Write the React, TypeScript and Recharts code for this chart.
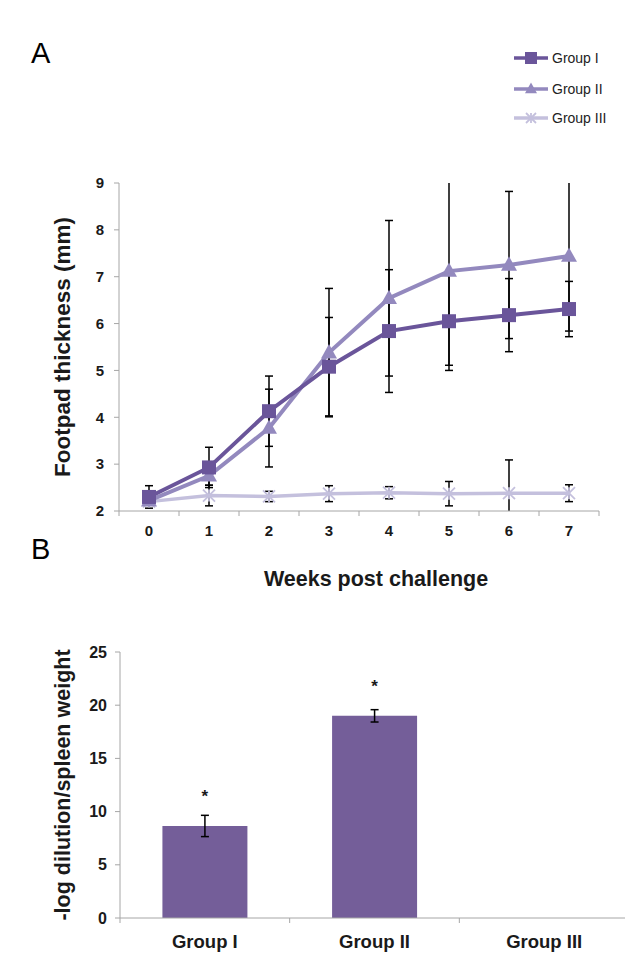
import {
  LineChart, Line, BarChart, Bar, XAxis, YAxis, ErrorBar,
  Legend, Label, LabelList,
} from 'recharts';

const FONT = '"Liberation Sans", Arial, sans-serif';
const AXIS = '#a6a6a6';
const INK = '#1a1a1a';

// footpad thickness per week, mean and spread for each group
const weeks = ['0', '1', '2', '3', '4', '5', '6', '7'];
const group1 = [2.3, 2.93, 4.13, 5.08, 5.84, 6.05, 6.18, 6.31];
const group1Err = [0.24, 0.43, 0.75, 1.05, 1.31, 1.05, 0.78, 0.59];
const group2 = [2.22, 2.75, 3.77, 5.38, 6.54, 7.12, 7.25, 7.44];
const group2Err = [0.06, 0.2, 0.83, 1.37, 1.66, 2.01, 1.57, 1.6];
const group3 = [2.2, 2.33, 2.31, 2.37, 2.39, 2.37, 2.38, 2.38];
const group3Err = [0.06, 0.22, 0.11, 0.17, 0.13, 0.26, 0.71, 0.18];
const thicknessTicks = [2, 3, 4, 5, 6, 7, 8, 9];

// spleen titres
const groups = ['Group I', 'Group II', 'Group III'];
const titre = [8.65, 19, 0];
const titreErr = [1.0, 0.58, null];
const significance = ['*', '*', ''];
const titreTicks = [0, 5, 10, 15, 20, 25];

const SERIES = [
  { key: 'g1', name: 'Group I', color: '#6a559a', marker: 'square' },
  { key: 'g2', name: 'Group II', color: '#9389be', marker: 'triangle' },
  { key: 'g3', name: 'Group III', color: '#c4c0dd', marker: 'cross' },
];

const weekRows = weeks.map((w, i) => ({
  week: w,
  g1: group1[i], g1Err: group1Err[i],
  g2: group2[i], g2Err: group2Err[i],
  g3: group3[i], g3Err: group3Err[i],
}));

const titreRows = groups.map((g, i) => ({
  group: g, titre: titre[i], err: titreErr[i], mark: significance[i],
}));

// plot box of the line chart (margins + axis sizes below)
const A_MARGIN = { top: 183, right: 26, bottom: 29, left: 0 };
const A_W = 625;
const A_H = 600;
const A_YAXIS_W = 119;
const A_XAXIS_H = 60;
const A_PLOT = {
  x: A_MARGIN.left + A_YAXIS_W,
  y: A_MARGIN.top,
  w: A_W - A_MARGIN.left - A_YAXIS_W - A_MARGIN.right,
  h: A_H - A_MARGIN.top - A_MARGIN.bottom - A_XAXIS_H,
};

function Marker({ kind, cx, cy, color, size }: any) {
  if (kind === 'square') {
    return <rect x={cx - size / 2} y={cy - size / 2} width={size} height={size} fill={color} />;
  }
  if (kind === 'triangle') {
    const h = size * 0.9;
    return (
      <polygon
        points={`${cx},${cy - h * 0.6} ${cx + size / 2},${cy + h * 0.4} ${cx - size / 2},${cy + h * 0.4}`}
        fill={color}
      />
    );
  }
  const r = size / 2;
  return (
    <g stroke={color} strokeWidth={1.8}>
      <line x1={cx - r} y1={cy - r} x2={cx + r} y2={cy + r} />
      <line x1={cx - r} y1={cy + r} x2={cx + r} y2={cy - r} />
      <line x1={cx} y1={cy - r} x2={cx} y2={cy + r} />
    </g>
  );
}

const dotFor = (kind: string, color: string, size: number) => (p: any) => (
  <g key={`${kind}-${p.index}`}>
    <Marker kind={kind} cx={p.cx} cy={p.cy} color={color} size={size} />
  </g>
);

// Excel-style category ticks: marks sit between the categories
function BetweenTick({ x, y, payload, index, visibleTicksCount, half, fontSize, gap }: any) {
  const h = payload?.offset > 0 ? payload.offset : half;
  return (
    <g>
      <line x1={x - h} y1={y} x2={x - h} y2={y + 5} stroke={AXIS} />
      {index === visibleTicksCount - 1 && (
        <line x1={x + h} y1={y} x2={x + h} y2={y + 5} stroke={AXIS} />
      )}
      <text x={x} y={y + gap} textAnchor="middle" fill={INK} fontSize={fontSize} fontWeight={700} fontFamily={FONT}>
        {payload.value}
      </text>
    </g>
  );
}

function SeriesLegend() {
  return (
    <div style={{ fontFamily: FONT, fontSize: 14, color: '#222' }}>
      {SERIES.map((s, i) => (
        <div key={s.key} style={{ display: 'flex', alignItems: 'center', height: i === 0 ? 32 : 29 }}>
          <svg width={38} height={16}>
            <line x1={2} y1={8} x2={36} y2={8} stroke={s.color} strokeWidth={3.5} />
            <Marker kind={s.marker} cx={19} cy={8} color={s.color} size={s.marker === 'cross' ? 10 : 12} />
          </svg>
          <span style={{ marginLeft: 2 }}>{s.name}</span>
        </div>
      ))}
    </div>
  );
}

const rotatedTitle = (text: string, cx: number, size: number) => (props: any) => {
  const vb = props.viewBox;
  const cy = vb.y + vb.height / 2;
  return (
    <text
      x={cx} y={cy}
      transform={`rotate(-90 ${cx} ${cy})`}
      textAnchor="middle" dominantBaseline="central"
      fill={INK} fontSize={size} fontWeight={700} fontFamily={FONT}
    >
      {text}
    </text>
  );
};

const panelLetter = (top: number): any => ({
  position: 'absolute', left: 31, top, fontFamily: FONT, fontSize: 29, lineHeight: 1, color: '#000',
});

export default function App() {
  return (
    <div style={{ position: 'absolute', left: 0, top: 0, width: 625, height: 979, overflow: 'hidden', background: '#fff' }}>
      {/* whiskers that run past the axis range are cut at the plot edge */}
      <svg width={0} height={0} style={{ position: 'absolute' }}>
        <defs>
          <clipPath id="plot-a-clip" clipPathUnits="userSpaceOnUse">
            <rect x={A_PLOT.x - 10} y={A_PLOT.y} width={A_PLOT.w + 20} height={A_PLOT.h} />
          </clipPath>
        </defs>
      </svg>
      <style>{'.thickness .recharts-errorBars, .thickness .recharts-errorBar { clip-path: url(#plot-a-clip); }'}</style>

      <div style={panelLetter(39)}>A</div>
      <div style={panelLetter(535)}>B</div>

      <div className="thickness" style={{ position: 'absolute', left: 0, top: 0 }}>
        <LineChart width={A_W} height={A_H} data={weekRows} margin={A_MARGIN}>
          <XAxis
            dataKey="week" scale="band" interval={0} height={A_XAXIS_H}
            axisLine={{ stroke: AXIS }} tickLine={false} tickSize={0} tickMargin={0}
            tick={<BetweenTick half={30} fontSize={15} gap={25} />}
          >
            <Label
              content={(props: any) => (
                <text x={376} y={props.viewBox.y + 75} textAnchor="middle" fill={INK} fontSize={21.5} fontWeight={700} fontFamily={FONT}>
                  Weeks post challenge
                </text>
              )}
            />
          </XAxis>
          <YAxis
            type="number" domain={[2, 9]} ticks={thicknessTicks} allowDataOverflow width={A_YAXIS_W}
            axisLine={{ stroke: AXIS }} tickLine={{ stroke: AXIS }} tickSize={5} tickMargin={10}
            tick={{ fill: INK, fontSize: 15, fontWeight: 700, fontFamily: FONT }}
          >
            <Label content={rotatedTitle('Footpad thickness (mm)', 62, 22.5)} />
          </YAxis>
          <Legend
            layout="vertical" align="center" verticalAlign="middle"
            wrapperStyle={{ left: 512, top: 42, width: 110 }}
            content={<SeriesLegend />}
          />
          {[...SERIES].reverse().map((s) => (
            <Line
              key={s.key} dataKey={s.key} name={s.name} stroke={s.color}
              strokeWidth={s.key === 'g3' ? 3.5 : 4}
              dot={dotFor(s.marker, s.color, s.marker === 'cross' ? 12 : s.marker === 'square' ? 14 : 16)}
              activeDot={false} isAnimationActive={false}
            >
              <ErrorBar dataKey={`${s.key}Err`} direction="y" width={4} stroke="#000" strokeWidth={1.5} />
            </Line>
          ))}
        </LineChart>
      </div>

      <div style={{ position: 'absolute', left: 0, top: 630 }}>
        <BarChart width={630} height={349} data={titreRows} margin={{ top: 22, right: 1, bottom: 11, left: 0 }} barCategoryGap="25%">
          <XAxis
            dataKey="group" interval={0} height={50}
            axisLine={{ stroke: AXIS }} tickLine={false} tickSize={0} tickMargin={0}
            tick={<BetweenTick half={85} fontSize={18.5} gap={30} />}
          />
          <YAxis
            type="number" domain={[0, 25]} ticks={titreTicks} width={120}
            axisLine={{ stroke: AXIS }} tickLine={{ stroke: AXIS }} tickSize={5} tickMargin={8}
            tick={{ fill: INK, fontSize: 16, fontWeight: 700, fontFamily: FONT }}
          >
            <Label content={rotatedTitle('-log dilution/spleen weight', 63, 21.5)} />
          </YAxis>
          <Bar dataKey="titre" fill="#745e99" isAnimationActive={false}>
            <ErrorBar dataKey="err" direction="y" width={4} stroke="#000" strokeWidth={1.5} />
            <LabelList
              dataKey="mark"
              content={(p: any) =>
                p.value ? (
                  <text x={p.x + p.width / 2} y={p.y - 24} textAnchor="middle" fill={INK} fontSize={17} fontWeight={700} fontFamily={FONT}>
                    {p.value}
                  </text>
                ) : null
              }
            />
          </Bar>
        </BarChart>
      </div>
    </div>
  );
}
